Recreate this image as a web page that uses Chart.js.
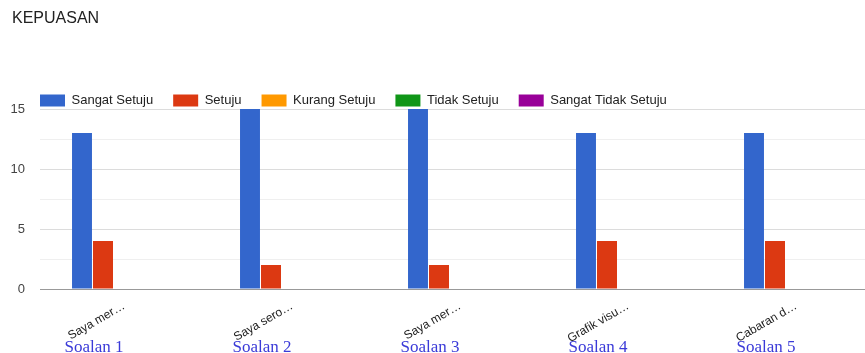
<!DOCTYPE html>
<html>
<head>
<meta charset="utf-8">
<script src="https://cdn.jsdelivr.net/npm/chart.js@4"></script>
<style>
  html, body { margin: 0; padding: 0; background: #fff; overflow: hidden; }
  #wrap { position: relative; width: 880px; height: 353px; }
  #title { position: absolute; left: 12px; top: 9px; font: 16px Arial, "Liberation Sans", sans-serif; color: #222; }
</style>
</head>
<body>
<div id="wrap">
  <div id="title">KEPUASAN</div>
  <canvas id="chart"></canvas>
</div>
<script>
// Survey answers per question
const questions = ['Soalan 1', 'Soalan 2', 'Soalan 3', 'Soalan 4', 'Soalan 5'];
const categories = ['Saya mer\u2026', 'Saya sero\u2026', 'Saya mer\u2026', 'Grafik visu\u2026', 'Cabaran d\u2026'];
const sangatSetuju = [13, 15, 15, 13, 13];
const setuju = [4, 2, 2, 4, 4];
const kurangSetuju = [0, 0, 0, 0, 0];
const tidakSetuju = [0, 0, 0, 0, 0];
const sangatTidakSetuju = [0, 0, 0, 0, 0];
const yTicks = [0, 5, 10, 15];

const font = 'Arial, "Liberation Sans", sans-serif';

// Question names drawn under the rotated category labels
const questionLabels = {
    id: 'questionLabels',
    afterDraw(chart) {
        const ctx = chart.ctx;
        const x = chart.scales.x;
        ctx.save();
        ctx.font = '17px "Liberation Serif", "Times New Roman", serif';
        ctx.fillStyle = '#3a3ad8';
        ctx.textAlign = 'center';
        ctx.textBaseline = 'middle';
        questions.forEach((q, i) => {
            ctx.fillText(q, x.getPixelForValue(i) - 30, 348);
        });
        ctx.restore();
    }
};

// Tighten the gap under the legend and move it in line with the plot
const legendFit = {
    id: 'legendFit',
    beforeInit(chart) {
        const fit = chart.legend.fit;
        chart.legend.fit = function () {
            fit.bind(chart.legend)();
            this.height -= 8;
        };
    },
    afterLayout(chart) {
        chart.legend.left = 20;
    }
};

function bar(label, data, color) {
    return {
        label: label,
        data: data,
        backgroundColor: color,
        borderWidth: 0,
        categoryPercentage: 0.625,
        barPercentage: 0.95
    };
}

new Chart(document.getElementById('chart'), {
    type: 'bar',
    data: {
        labels: categories,
        datasets: [
            bar('Sangat Setuju', sangatSetuju, '#3366cc'),
            bar('Setuju', setuju, '#dc3912'),
            bar('Kurang Setuju', kurangSetuju, '#ff9900'),
            bar('Tidak Setuju', tidakSetuju, '#109618'),
            bar('Sangat Tidak Setuju', sangatTidakSetuju, '#990099')
        ]
    },
    options: {
        responsive: true,
        maintainAspectRatio: false,
        animation: false,
        layout: { padding: { left: 0, top: 74, right: 0, bottom: 0 } },
        plugins: {
            legend: {
                position: 'top',
                align: 'start',
                labels: {
                    boxWidth: 25,
                    boxHeight: 12,
                    padding: 20,
                    color: '#222',
                    font: { family: font, size: 13 }
                }
            },
            tooltip: { enabled: false }
        },
        scales: {
            x: {
                grid: { display: false },
                border: { color: '#999' },
                ticks: {
                    minRotation: 30,
                    maxRotation: 30,
                    padding: 2,
                    color: '#222',
                    font: { family: font, size: 12 }
                },
                afterFit(scale) { scale.height = 64; }
            },
            y: {
                min: 0,
                max: 15,
                border: { display: false },
                grid: {
                    drawTicks: false,
                    color: ctx => ctx.tick.value === 0 ? '#999' : (yTicks.includes(ctx.tick.value) ? '#dcdcdc' : '#efefef')
                },
                ticks: {
                    stepSize: 2.5,
                    padding: 15,
                    color: '#444',
                    font: { family: font, size: 13 },
                    callback: v => yTicks.includes(v) ? v : ''
                },
                afterFit(scale) { scale.width = 40; }
            }
        }
    },
    plugins: [questionLabels, legendFit]
});
</script>
</body>
</html>
